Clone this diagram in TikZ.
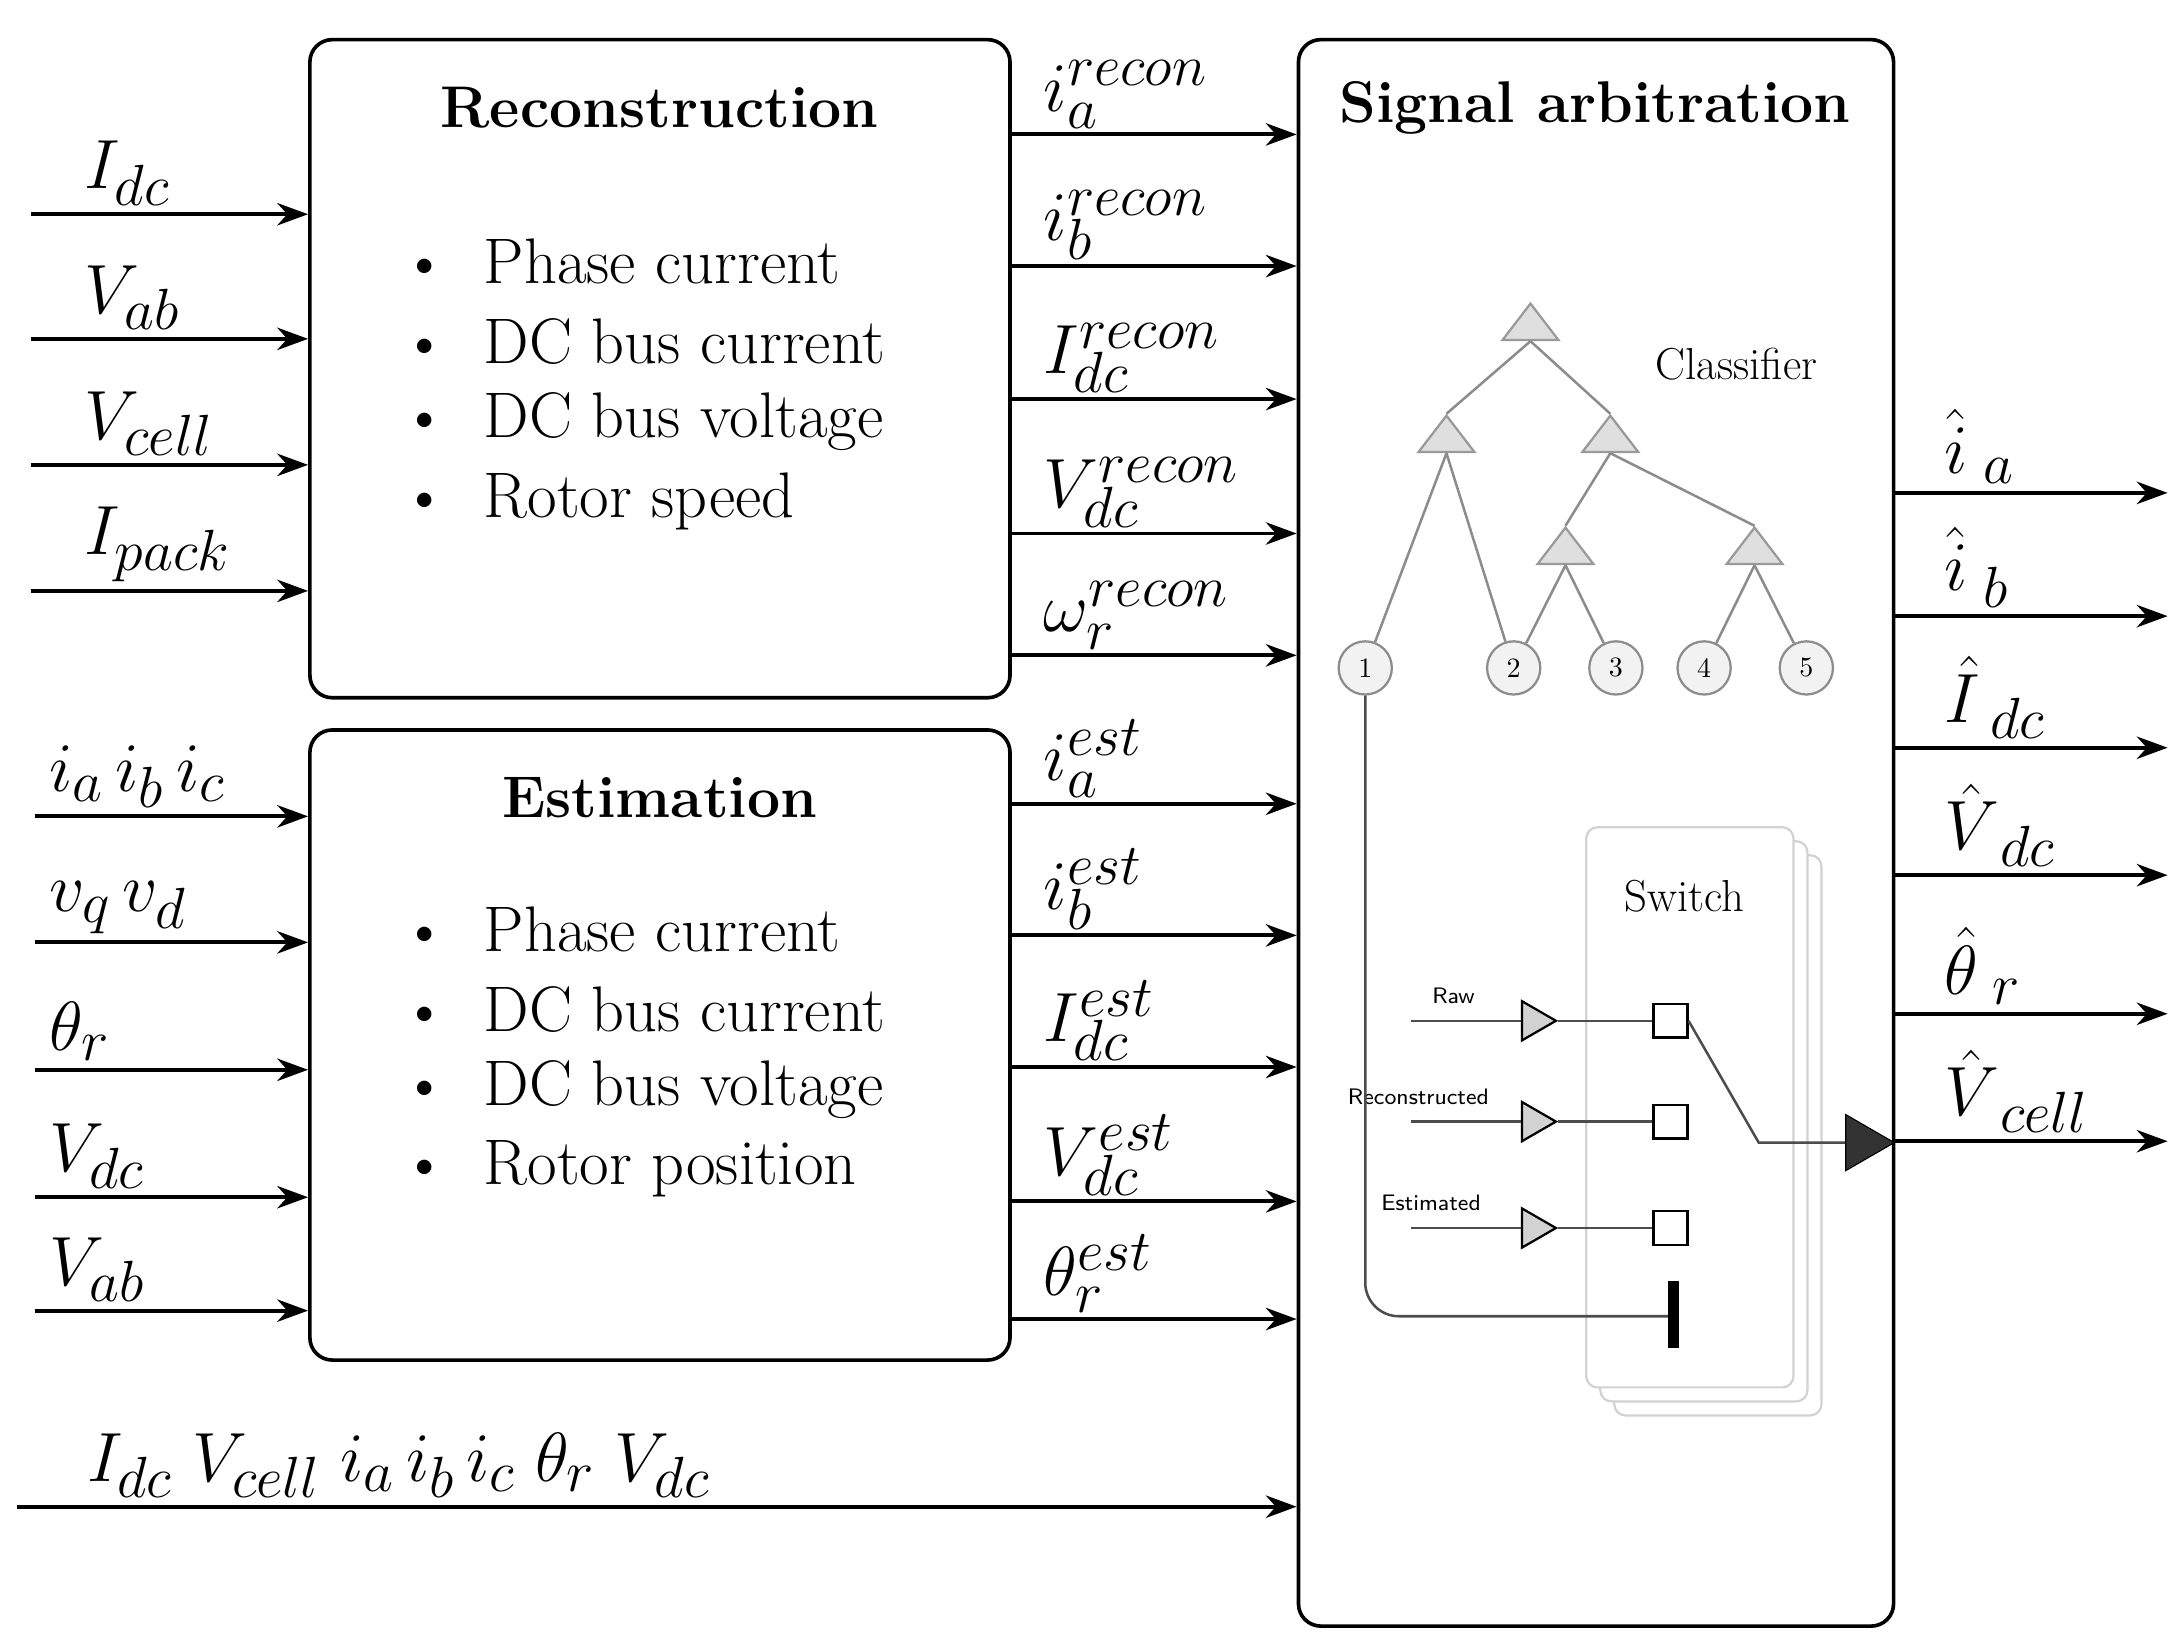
\documentclass[tikz,border=0pt]{standalone}
\usetikzlibrary{arrows.meta,shapes.geometric}
\begin{document}
\begin{tikzpicture}[x=0.5pt,y=-0.5pt,
  box/.style={draw,line width=1.3pt,rounded corners=8pt},
  sig/.style={line width=1.4pt,-{Stealth[length=11pt,width=8pt]}},
  lab/.style={font=\fontsize{30}{30}\selectfont,anchor=south west,inner sep=0pt},
  olab/.style={font=\fontsize{28}{28}\selectfont,anchor=south west,inner sep=0pt},
  title/.style={font=\fontsize{21}{21}\selectfont\bfseries},
  bul/.style={font=\fontsize{23}{23}\selectfont,anchor=west,inner sep=0pt},
  tri/.style={draw=gray!80,fill=gray!25,line width=0.8pt,isosceles triangle,shape border rotate=90,minimum width=20pt,minimum height=10pt,inner sep=0pt,isosceles triangle apex angle=75},
  leaf/.style={circle,draw=gray!90,fill=gray!10,line width=0.8pt,minimum size=19pt,inner sep=0pt,font=\fontsize{10}{10}\selectfont},
  edge/.style={gray!90,line width=0.9pt},
  sw/.style={draw=gray!35,line width=0.8pt,rounded corners=4pt,fill=white},
  amp/.style={draw,fill=gray!35,line width=0.8pt,isosceles triangle,minimum width=14pt,minimum height=12pt,inner sep=0pt,isosceles triangle apex angle=60},
  sq/.style={draw,line width=0.9pt,minimum size=12pt,inner sep=0pt},
  small/.style={font=\sffamily\fontsize{8}{8}\selectfont,inner sep=0pt}]
\useasboundingbox (0,0) rectangle (1559,1171);
% boxes
\node[box,minimum width=250pt,minimum height=235pt,anchor=north west] (rec) at (220,27) {};
\node[box,minimum width=250pt,minimum height=225pt,anchor=north west] (est) at (220,520) {};
\node[box,minimum width=212.5pt,minimum height=566.5pt,anchor=north west] (arb) at (926,27) {};
\node[title] at (471,77) {Reconstruction};
\node[title] at (471,570) {Estimation};
\node[title] at (1139,77) {Signal arbitration};
\foreach \t [count=\k] in {Phase current,DC bus current,DC bus voltage,Rotor speed}
  \node[bul] at (286,130+57*\k) {\textbullet\hspace{13pt}\t};
\foreach \t [count=\k] in {Phase current,DC bus current,DC bus voltage,Rotor position}
  \node[bul] at (286,607+57*\k) {\textbullet\hspace{13pt}\t};
% left inputs
\foreach \y/\l in {153/{I_{dc}},242/{V_{ab}},332/{V_{cell}},422/{I_{pack}}}{
  \coordinate (s) at (22,\y);
  \draw[sig] (s) -- (s -| rec.west);
  \node[lab] at (60,\y-6) {$\l$};}
\foreach \y/\l in {583/{i_a\,i_b\,i_c},673/{v_q\,v_d},764/{\theta_r},855/{V_{dc}},936/{V_{ab}}}{
  \coordinate (s) at (25,\y);
  \draw[sig] (s) -- (s -| est.west);
  \node[lab] at (35,\y-6) {$\l$};}
\coordinate (b0) at (12,1076);
\draw[sig] (b0) -- (b0 -| arb.west);
\node[lab] at (62,1070) {$I_{dc}\;V_{cell}\;i_a\,i_b\,i_c\;\theta_r\;V_{dc}$};
% recon / est outputs
\foreach \y/\l in {96/{i_a^{recon}},190/{i_b^{recon}},285/{I_{dc}^{recon}},381/{V_{dc}^{recon}},468/{\omega_r^{recon}},
                   574/{i_a^{est}},668/{i_b^{est}},762/{I_{dc}^{est}},858/{V_{dc}^{est}},942/{\theta_r^{est}}}{
  \coordinate (s) at (723,\y);
  \draw[sig] (s) -- (s -| arb.west);
  \node[olab] at (745,\y-4) {$\l$};}
% right outputs
\foreach \y/\l in {352/{\hat{i}_{\;a}},440/{\hat{i}_{\;b}},534/{\hat{I}_{\;dc}},625/{\hat{V}_{\;dc}},724/{\hat{\theta}_{\;r}},815/{\hat{V}_{\;cell}}}{
  \coordinate (s) at (arb.east |- 0,\y);
  \draw[sig] (s) -- (1548,\y);
  \node[olab] at (1388,\y-6) {$\l$};}
% classifier
\node[tri] (t0) at (1093,233) {};
\node[tri] (t1) at (1033,313) {};
\node[tri] (t2) at (1150,313) {};
\node[tri] (t3) at (1118,393) {};
\node[tri] (t4) at (1253,393) {};
\foreach \x [count=\k] in {975,1081,1154,1217,1290}
  \node[leaf] (l\k) at (\x,477) {\k};
\draw[edge] (t0.south) -- (t1.apex) (t0.south) -- (t2.apex)
  (t1.south) -- (l1) (t1.south) -- (l2)
  (t2.south) -- (t3.apex) (t2.south) -- (t4.apex)
  (t3.south) -- (l2) (t3.south) -- (l3)
  (t4.south) -- (l4) (t4.south) -- (l5);
\node[font=\fontsize{16}{16}\selectfont] at (1240,260) {Classifier};
% switch
\node[sw,minimum width=74pt,minimum height=200pt,anchor=north west] at (1152,610) {};
\node[sw,minimum width=74pt,minimum height=200pt,anchor=north west] at (1142,600) {};
\node[sw,minimum width=74pt,minimum height=200pt,anchor=north west] (swb) at (1132,590) {};
\node[font=\fontsize{16}{16}\selectfont] at (1203,640) {Switch};
\foreach \y/\t/\n/\lx in {729/Raw/r/1038,801/Reconstructed/c/1013,877/Estimated/e/1022}{
  \coordinate (i\n) at (1008,\y);
  \node[amp] (a\n) at (1095,\y) {};
  \node[sq] (q\n) at (1193,\y) {};
  \draw[gray!60!black,line width=0.9pt] (i\n) -- (a\n.west) (a\n.apex) -- (q\n.west);
  \node[small] at (\lx,\y-18) {\t};}
\node[isosceles triangle,fill=black!80,draw,minimum width=20pt,minimum height=12pt,inner sep=0pt,isosceles triangle apex angle=60,anchor=apex] (out) at (arb.east |- 0,816) {};
\draw[gray!60!black,line width=0.9pt] (qr.east) -- (1256,816) -- (out.west);
\coordinate (bar) at (1195,940);
\draw[gray!60!black,line width=0.9pt,rounded corners=12pt] (l1.south) -- (975,940) -- (bar);
\draw[line width=4pt] (1195,915) -- (1195,963);
\end{tikzpicture}
\end{document}
